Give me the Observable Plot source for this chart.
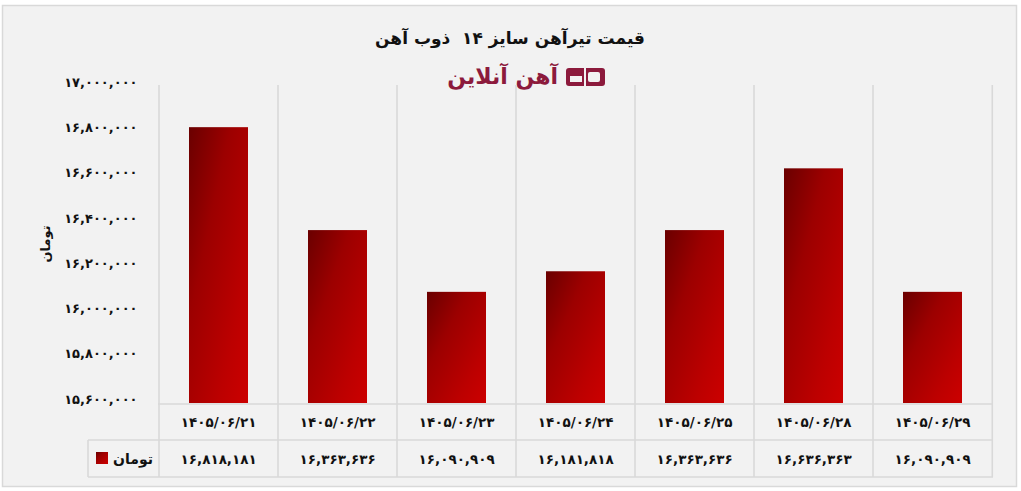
<!DOCTYPE html>
<html><head><meta charset="utf-8">
<script src="https://cdn.jsdelivr.net/npm/d3@7"></script>
<script src="https://cdn.jsdelivr.net/npm/@observablehq/plot@0.6"></script>
<style>body{margin:0;background:#fff;}</style>
</head><body><div id="chart"></div>
<script>
const dates = ["1405/06/21","1405/06/22","1405/06/23","1405/06/24","1405/06/25","1405/06/28","1405/06/29"];
const prices = [16818181,16363636,16090909,16181818,16363636,16636363,16090909];
const yTicks = [15600000,15800000,16000000,16200000,16400000,16600000,16800000,17000000];
const title = "قیمت تیرآهن سایز ۱۴  ذوب آهن";
const seriesName = "تومان";
const yLabel = "تومان";
const brand = "آهن آنلاین";

const fa = s => String(s).replace(/\d/g, d => "۰۱۲۳۴۵۶۷۸۹"[d]);
const fmt = v => fa(d3.format(",")(v));
const data = dates.map((d, i) => ({date: d, price: prices[i]}));
const yMin = yTicks[0], yMax = yTicks[yTicks.length - 1];

const FONT = "DejaVu Sans";
const GRID = "#d9d9d9";
const MAROON = "#8c1a3c";

function decor(index, scales, values, dims) {
  const g = d3.create("svg:g");
  const defs = g.append("defs");
  const lg = defs.append("linearGradient").attr("id", "barGrad")
    .attr("x1", 0).attr("y1", 0).attr("x2", 1).attr("y2", 1);
  lg.append("stop").attr("offset", "0%").attr("stop-color", "#6a0000");
  lg.append("stop").attr("offset", "35%").attr("stop-color", "#9c0000");
  lg.append("stop").attr("offset", "75%").attr("stop-color", "#bc0000");
  lg.append("stop").attr("offset", "100%").attr("stop-color", "#cc0000");
  g.append("rect").attr("x", 2.5).attr("y", 5.5).attr("width", 1014).attr("height", 481)
    .attr("fill", "#f2f2f2").attr("stroke", GRID).attr("stroke-width", 1.5);
  g.append("text").attr("x", 510).attr("y", 39).attr("text-anchor", "middle")
    .attr("dominant-baseline", "middle").attr("font-family", FONT).attr("font-weight", "bold")
    .attr("font-size", 17).attr("fill", "#111").text(title);
  g.append("text").attr("x", 558).attr("y", 78).attr("text-anchor", "end")
    .attr("dominant-baseline", "middle").attr("font-family", FONT).attr("font-weight", "bold")
    .attr("font-size", 22).attr("fill", MAROON).text(brand);
  const ic = g.append("g").attr("transform", "translate(566,68)");
  ic.append("rect").attr("x", 0).attr("y", 0).attr("width", 39).attr("height", 18).attr("rx", 3).attr("fill", MAROON);
  ic.append("rect").attr("x", 4).attr("y", 8).attr("width", 12).attr("height", 6).attr("fill", "#f2f2f2");
  ic.append("rect").attr("x", 22).attr("y", 4).attr("width", 12).attr("height", 10).attr("rx", 2).attr("fill", "#f2f2f2");
  ic.append("rect").attr("x", 18).attr("y", 0).attr("width", 2).attr("height", 18).attr("fill", "#f2f2f2");
  g.append("text").attr("transform", "translate(46,244) rotate(-90)").attr("text-anchor", "middle")
    .attr("dominant-baseline", "middle").attr("font-family", FONT).attr("font-weight", "bold")
    .attr("font-size", 13).attr("fill", "#111").text(yLabel);
  return g.node();
}

function table(index, scales, values, dims) {
  const x = scales.x;
  const g = d3.create("svg:g").attr("font-family", FONT);
  const left = dims.marginLeft, right = dims.width - dims.marginRight;
  const bw = (right - left) / dates.length;
  const top = dims.marginTop - 1, base = dims.height - dims.marginBottom + 1;
  const r1 = base + 36, r2 = r1 + 37, legL = 88;
  const L = g.append("g").attr("stroke", GRID).attr("stroke-width", 1.6);
  const edges = dates.map(d => x(d)).concat([x(dates[dates.length - 1]) + bw]);
  edges.forEach(e => L.append("line").attr("x1", e).attr("x2", e).attr("y1", top).attr("y2", r2));
  L.append("line").attr("x1", left).attr("x2", right).attr("y1", base).attr("y2", base);
  L.append("line").attr("x1", legL).attr("x2", right).attr("y1", r1).attr("y2", r1);
  L.append("line").attr("x1", legL).attr("x2", right).attr("y1", r2).attr("y2", r2);
  L.append("line").attr("x1", legL).attr("x2", legL).attr("y1", r1).attr("y2", r2);
  const T = g.append("g").attr("font-weight", "bold").attr("font-size", 13.5).attr("fill", "#111")
    .attr("text-anchor", "middle").attr("dominant-baseline", "middle");
  dates.forEach((d, i) => {
    T.append("text").attr("x", x(d) + bw / 2).attr("y", (base + r1) / 2 + 1).text(fa(d));
    T.append("text").attr("x", x(d) + bw / 2).attr("y", (r1 + r2) / 2 + 1).text(fmt(prices[i]));
  });
  g.append("rect").attr("x", 96).attr("y", 452).attr("width", 12).attr("height", 12).attr("fill", "url(#barGrad)");
  g.append("text").attr("x", 153).attr("y", (r1 + r2) / 2 + 1).attr("text-anchor", "end")
    .attr("dominant-baseline", "middle").attr("font-weight", "bold").attr("font-size", 14)
    .attr("fill", "#111").text(seriesName);
  return g.node();
}

const chart = Plot.plot({
  width: 1021, height: 491,
  marginLeft: 158, marginRight: 28, marginTop: 86, marginBottom: 88,
  style: {background: "transparent", fontFamily: FONT, overflow: "visible"},
  x: {domain: dates, padding: 0, axis: null},
  y: {domain: [yMin, yMax], axis: null},
  marks: [
    decor,
    Plot.barY(data, {x: "date", y1: () => yMin, y2: "price", fill: "url(#barGrad)", insetLeft: 30, insetRight: 30}),
    table,
    Plot.axisY(yTicks, {tickSize: 0, tickPadding: 21, tickFormat: fmt, fontSize: 13, fontWeight: "bold", fill: "#111", dy: -4, label: null})
  ]
});
document.getElementById("chart").appendChild(chart);
</script>
</body></html>
